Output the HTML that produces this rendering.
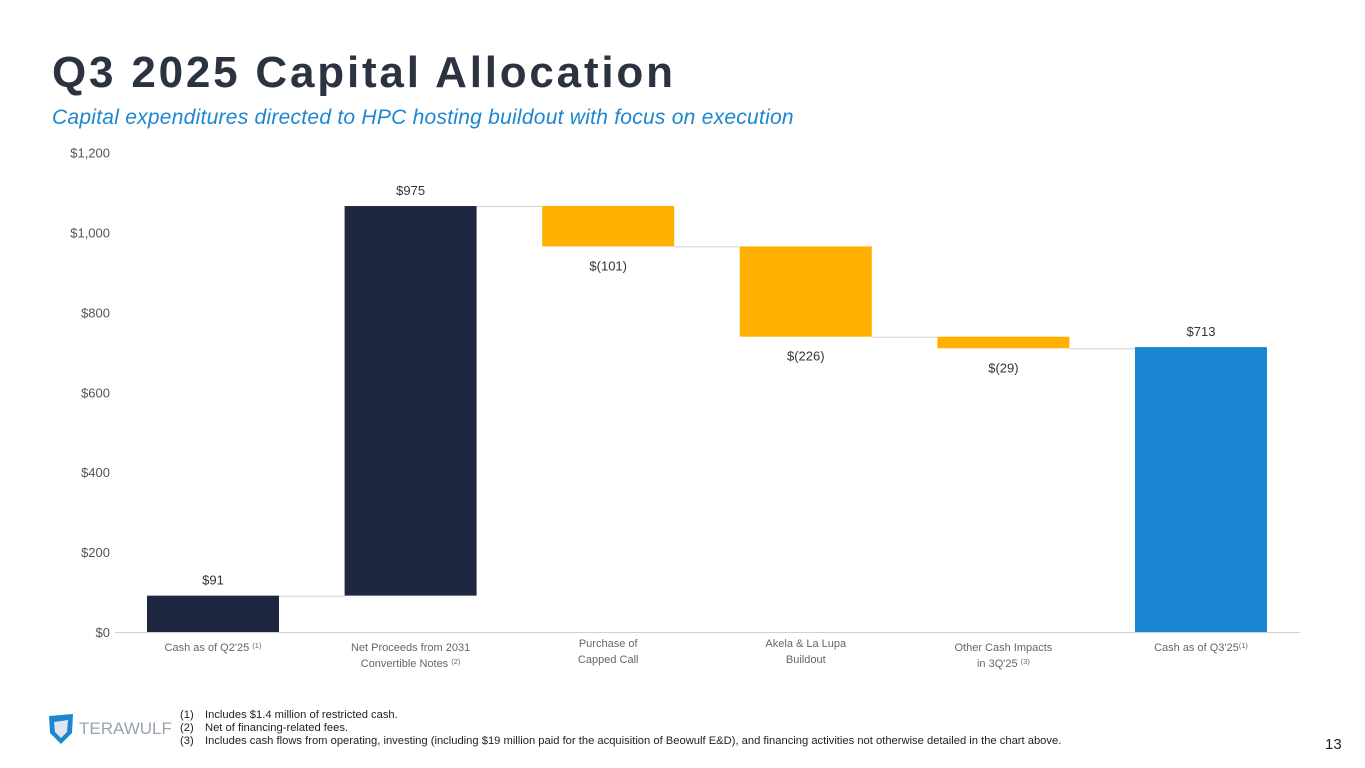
<!DOCTYPE html>
<html><head><meta charset="utf-8">
<style>
body{margin:0;width:1365px;height:768px;background:#fff;overflow:hidden;position:relative;font-family:"Liberation Sans",sans-serif}
.title{position:absolute;left:52px;top:48px;font-size:44px;font-weight:bold;color:#2b3340;letter-spacing:2.8px}
.sub{position:absolute;left:52px;top:106px;font-size:21px;font-style:italic;color:#1c86d0;letter-spacing:0.25px}
.notes{position:absolute;left:180px;top:709px;font-size:11.2px;color:#222;line-height:13px}
.notes span{display:inline-block;width:25px}
.page{position:absolute;left:1325px;top:736px;font-size:15px;color:#222}
.logo{position:absolute;left:47px;top:713px;display:flex;align-items:center}
</style></head><body>
<div class="title">Q3 2025 Capital Allocation</div>
<div class="sub">Capital expenditures directed to HPC hosting buildout with focus on execution</div>
<svg id="chart" width="1365" height="768" style="position:absolute;left:0;top:0" font-family="Liberation Sans, sans-serif"></svg>
<div class="logo">
<svg width="28" height="32" viewBox="0 0 28 32"><path d="M2 3 L26 1 L25 20 L14 31 L3 20 Z" fill="#1c86d0"/><path d="M7 9 L21 7 L20 19 L14 25 L8 19 Z" fill="#dfe6ee"/></svg>
<span style="font-size:17px;color:#9aa3ad;letter-spacing:0px;margin-left:4px">TERAWULF</span></div>
<div class="notes">
<div><span>(1)</span>Includes $1.4 million of restricted cash.</div>
<div><span>(2)</span>Net of financing-related fees.</div>
<div><span>(3)</span>Includes cash flows from operating, investing (including $19 million paid for the acquisition of Beowulf E&amp;D), and financing activities not otherwise detailed in the chart above.</div>
</div>
<div class="page">13</div>
<script>
const categories=[["Cash as of Q2'25 ","(1)"],["Net Proceeds from 2031","Convertible Notes ","(2)"],["Purchase of","Capped Call"],["Akela & La Lupa","Buildout"],["Other Cash Impacts","in 3Q'25 ","(3)"],["Cash as of Q3'25","(1)"]];
const values=[91,975,-101,-226,-29,713];
const kinds=["total","delta","delta","delta","delta","total"];
const valueLabels=["$91","$975","$(101)","$(226)","$(29)","$713"];
const yTicks=[0,200,400,600,800,1000,1200];
const NS="http://www.w3.org/2000/svg";
const svg=document.getElementById('chart');
const y0=632,pxPer=479.5/1200,x0=213,step=197.6,bw=132;
const y=v=>y0-v*pxPer, xc=i=>x0+i*step;
function mk(t,a){const e=document.createElementNS(NS,t);for(const k in a)e.setAttribute(k,a[k]);svg.appendChild(e);return e;}
yTicks.forEach(t=>{const e=mk('text',{x:110,y:y(t)+5,'text-anchor':'end','font-size':13,fill:'#555'});e.textContent='$'+t.toLocaleString('en-US');

});
const ax=mk('line',{x1:115,x2:1300,y1:y0+0.5,y2:y0+0.5,stroke:'#d0d0d0'});


let run=0;
values.forEach((v,i)=>{
 let a,b,col;
 if(kinds[i]==="total"){a=0;b=v;run=v;col=i===0?'#1f2640':'#1a85d1';}
 else{a=run;b=run+v;run=b;col=v>=0?'#1f2640':'#ffb000';}
 const top=y(Math.max(a,b)),bot=y(Math.min(a,b));
 const r=mk('rect',{x:xc(i)-bw/2,y:top,width:bw,height:bot-top,fill:col});
 
 
 if(i<values.length-1){const c=mk('line',{x1:xc(i)+bw/2,x2:xc(i+1)-bw/2,y1:y(run)+0.5,y2:y(run)+0.5,stroke:'#d0d0d0'});
 
 }
 const ly=v>=0?top-11:bot+24;
 const t=mk('text',{x:xc(i),y:ly,'text-anchor':'middle','font-size':13,fill:'#333'});t.textContent=valueLabels[i];
 
 
 const lines=categories[i].length===2&&categories[i][1].startsWith('(')?[[categories[i][0],categories[i][1]]]:
   categories[i].length===3?[[categories[i][0]],[categories[i][1],categories[i][2]]]:[[categories[i][0]],[categories[i][1]]];
 lines.forEach((ln,j)=>{
  const tt=mk('text',{x:xc(i),y:651+j*16-(lines.length===2&&categories[i].length===2?4:0),'text-anchor':'middle','font-size':11,fill:'#666'});
  
  
  tt.appendChild(document.createTextNode(ln[0]));
  if(ln[1]){const s=document.createElementNS(NS,'tspan');s.setAttribute('font-size',7.5);s.setAttribute('dy',-3);s.textContent=ln[1];tt.appendChild(s);}
 });
});
</script>
</body></html>
